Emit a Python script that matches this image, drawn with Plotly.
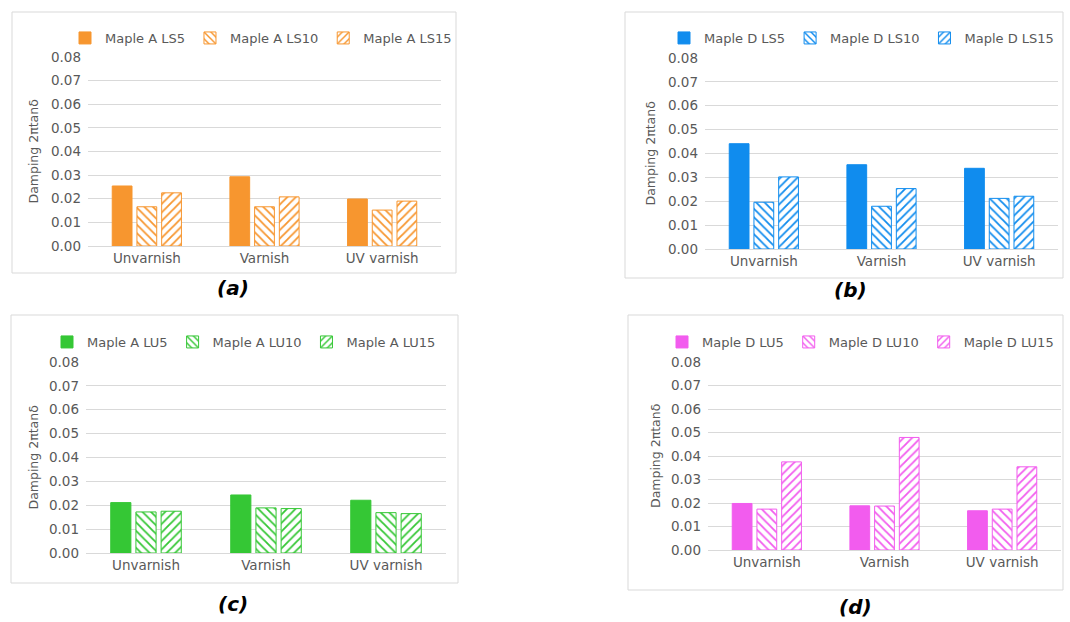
import plotly.graph_objects as go

W, H = 1070, 622

categories = ["Unvarnish", "Varnish", "UV varnish"]

# Panel (a): Maple A, LS series
a_names = ["Maple A LS5", "Maple A LS10", "Maple A LS15"]
a_ls5 = [0.0254, 0.0293, 0.0199]
a_ls10 = [0.0166, 0.0166, 0.0152]
a_ls15 = [0.0225, 0.0208, 0.0190]

# Panel (b): Maple D, LS series
b_names = ["Maple D LS5", "Maple D LS10", "Maple D LS15"]
b_ls5 = [0.0441, 0.0353, 0.0338]
b_ls10 = [0.0196, 0.0179, 0.0212]
b_ls15 = [0.0302, 0.0253, 0.0221]

# Panel (c): Maple A, LU series
c_names = ["Maple A LU5", "Maple A LU10", "Maple A LU15"]
c_lu5 = [0.0211, 0.0243, 0.0221]
c_lu10 = [0.0172, 0.0189, 0.0169]
c_lu15 = [0.0175, 0.0186, 0.0165]

# Panel (d): Maple D, LU series
d_names = ["Maple D LU5", "Maple D LU10", "Maple D LU15"]
d_lu5 = [0.0198, 0.0188, 0.0167]
d_lu10 = [0.0174, 0.0187, 0.0174]
d_lu15 = [0.0375, 0.0479, 0.0354]

y_ticks = [0.00, 0.01, 0.02, 0.03, 0.04, 0.05, 0.06, 0.07, 0.08]
y_title = "Damping 2πtanδ"
panel_labels = ["(a)", "(b)", "(c)", "(d)"]

FONT = "DejaVu Sans"
GRID = "#D9D9D9"
TXT = "#595959"


def px_x(v):
    return v / W


def px_y(v):
    return 1 - v / H


panels = [
    dict(names=a_names, vals=[a_ls5, a_ls10, a_ls15], color="#F7962F",
         xd=(88, 441), yd=(246, 57), box=(12, 12, 456, 273),
         lab=(233, 288), leg=(65, 38), ytx=33),
    dict(names=b_names, vals=[b_ls5, b_ls10, b_ls15], color="#108CEE",
         xd=(705, 1058), yd=(249, 58), box=(625, 12, 1063, 278),
         lab=(850, 290), leg=(664, 38), ytx=650),
    dict(names=c_names, vals=[c_lu5, c_lu10, c_lu15], color="#35C735",
         xd=(86, 446), yd=(553, 362), box=(11, 315, 458, 583),
         lab=(233, 604), leg=(47, 342), ytx=33),
    dict(names=d_names, vals=[d_lu5, d_lu10, d_lu15], color="#F25CEE",
         xd=(708, 1061), yd=(550, 362), box=(628, 315, 1063, 590),
         lab=(855, 607), leg=(662, 342), ytx=655),
]

patterns = ["", "\\", "/"]

fig = go.Figure()
layout = dict(
    width=W, height=H,
    margin=dict(l=0, r=0, t=0, b=0, autoexpand=False),
    paper_bgcolor="white", plot_bgcolor="white",
    barmode="group", bargap=0.37, bargroupgap=0.2,
    font=dict(family=FONT, size=13.5, color=TXT),
    shapes=[], annotations=[],
)

for i, p in enumerate(panels):
    n = "" if i == 0 else str(i + 1)
    leg = "legend" if i == 0 else f"legend{i + 1}"
    for k in range(3):
        marker = dict(color=p["color"] if k == 0 else "white",
                      line=dict(color=p["color"], width=1))
        if k > 0:
            marker["pattern"] = dict(shape=patterns[k], fgcolor=p["color"],
                                     bgcolor="white", size=6, solidity=0.3,
                                     fillmode="replace")
        fig.add_trace(go.Bar(
            x=categories, y=p["vals"][k], name=p["names"][k],
            marker=marker, xaxis="x" + n, yaxis="y" + n, legend=leg,
        ))

    layout["xaxis" + n] = dict(
        domain=[px_x(p["xd"][0]), px_x(p["xd"][1])], anchor="y" + n,
        showgrid=False, showline=True, linecolor=GRID, linewidth=1,
        ticks="", tickfont=dict(family=FONT, size=13.5, color=TXT),
        fixedrange=True, automargin=False,
    )
    layout["yaxis" + n] = dict(
        domain=[px_y(p["yd"][0]), px_y(p["yd"][1])], anchor="x" + n,
        range=[0, 0.08], tickvals=y_ticks, tickformat=".2f",
        showgrid=True, gridcolor=GRID, gridwidth=1, zeroline=False,
        showline=False, ticks="", ticklabelstandoff=6,
        tickfont=dict(family=FONT, size=13.5, color=TXT),
        fixedrange=True, automargin=False,
    )
    layout["annotations"].append(dict(
        text=y_title, xref="paper", yref="paper",
        x=px_x(p["ytx"]), y=(px_y(p["yd"][0]) + px_y(p["yd"][1])) / 2,
        textangle=-90, showarrow=False, xanchor="center", yanchor="middle",
        font=dict(family=FONT, size=12.5, color=TXT),
    ))
    layout[leg] = dict(
        orientation="h", x=px_x(p["leg"][0]), y=px_y(p["leg"][1]),
        xanchor="left", yanchor="middle", bgcolor="rgba(0,0,0,0)",
        font=dict(family=FONT, size=13, color=TXT),
        itemwidth=30, tracegroupgap=0,
    )
    x0, y0, x1, y1 = p["box"]
    layout["shapes"].append(dict(
        type="rect", xref="paper", yref="paper",
        x0=px_x(x0), x1=px_x(x1), y0=px_y(y1), y1=px_y(y0),
        line=dict(color=GRID, width=1), layer="below",
    ))
    layout["annotations"].append(dict(
        text="<b><i>" + panel_labels[i] + "</i></b>", xref="paper", yref="paper",
        x=px_x(p["lab"][0]), y=px_y(p["lab"][1]), showarrow=False,
        xanchor="center", yanchor="middle",
        font=dict(family=FONT, size=20, color="black"),
    ))

fig.update_layout(**layout)
fig.write_html("out.html")
